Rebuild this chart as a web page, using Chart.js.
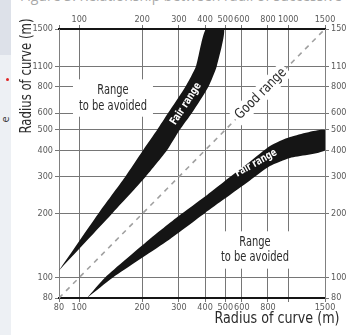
<!DOCTYPE html>
<html>
<head>
<meta charset="utf-8">
<script src="https://cdn.jsdelivr.net/npm/chart.js@4.4.1/dist/chart.umd.min.js"></script>
<style>
    html, body { margin: 0; padding: 0; background: #fff; }
    #page { position: relative; width: 347px; height: 335px; overflow: hidden; }
    .strip { position: absolute; left: 0; width: 11px; }
    .strip.top { top: 0; height: 55px; background: #dde1e9; }
    .strip.low { top: 55px; height: 280px; background: #edf0f4; }
    .dot { position: absolute; left: 6px; top: 78px; width: 3px; height: 3px; border-radius: 50%; background: #e02424; }
    .frag { position: absolute; left: 1px; top: 112px; font: 11px 'Open Sans', sans-serif; color: #333; transform: rotate(-90deg); }
    .cap { position: absolute; left: 20px; top: -14px; font: 14px 'Open Sans', sans-serif; color: #a8a8a8; white-space: nowrap; }
    canvas { position: absolute; left: 0; top: 0; }
</style>
</head>
<body>
<div id="page">
    <div class="strip top"></div>
    <div class="strip low"></div>
    <span class="dot"></span>
    <span class="frag">e</span>
    <div class="cap">Figure 3: Relationship between radii of successive curves</div>
    <canvas id="chart" width="347" height="335"></canvas>
</div>
<script>
    // axis ticks
    const xTickValues = [80, 100, 200, 300, 400, 500, 600, 800, 1000, 1500];
    const xBottomLabels = ['80', '100', '200', '300', '400', '500', '600', '800', '', '1500'];
    const xTopLabels = ['', '100', '200', '300', '400', '500', '600', '800', '1000', '1500'];
    const yTickValues = [80, 100, 200, 300, 400, 500, 600, 800, 1000, 1500];
    const yTickLabels = ['80', '100', '200', '300', '400', '500', '600', '800', '1100', '1500'];

    // upper "fair range" band, edges read at fixed radius levels (y)
    const upperBandY = [108, 200, 300, 400, 500, 600, 800, 1000, 1500];
    const upperBandLeftX = [80, 123, 166, 202, 236, 266, 322, 362, 404];
    const upperBandRightX = [80, 143, 208, 263, 303, 346, 415, 455, 493];

    // lower "fair range" band, edges read at fixed radius levels (x)
    const lowerBandX = [109, 133, 214, 300, 400, 494, 656, 818, 1020, 1500];
    const lowerBandTopY = [80, 100, 150, 196, 242, 285, 353, 419, 462, 499];
    const lowerBandBottomX = [109, 145, 267, 400, 494, 656, 818, 1020, 1500];
    const lowerBandBottomY = [80, 100, 150, 202, 235, 288, 337, 368, 400];

    // equal radii diagonal
    const diagonal = [80, 1500];

    const plotFont = "'Liberation Sans Narrow', 'DejaVu Sans Condensed', 'Roboto Condensed', Roboto, sans-serif";

    // text placed in data coordinates
    const notes = [
        { lines: ['Range', 'to be avoided'], x: 145, y: 707, angle: 0, size: 14, weight: 'normal', color: '#2b2b2b', width: 68, box: [6, 3] },
        { lines: ['Range', 'to be avoided'], x: 693, y: 135, angle: 0, size: 14, weight: 'normal', color: '#2b2b2b', width: 68, box: [6, 3] },
        { lines: ['Good range'], x: 740, y: 740, angle: -45, size: 14, weight: 'normal', color: '#2b2b2b', width: 66, box: [3, 1] },
        { lines: ['Fair range'], x: 324, y: 663, angle: -57, size: 11, weight: 'bold', color: '#fff', width: 48 },
        { lines: ['Fair range'], x: 701, y: 348, angle: -29, size: 11, weight: 'bold', color: '#fff', width: 46 }
    ];

    function bandShape(xs1, ys1, xs2, ys2) {
        const pts = xs1.map((x, i) => ({ x: x, y: ys1[i] }));
        for (let i = xs2.length - 1; i >= 0; i--) {
            pts.push({ x: xs2[i], y: ys2[i] });
        }
        return pts;
    }

    function drawScaledText(ctx, lines, lh, width) {
        const natural = Math.max(...lines.map(l => ctx.measureText(l).width));
        const sx = Math.min(1, width / natural);
        ctx.scale(sx, 1);
        lines.forEach((l, i) => {
            ctx.fillText(l, 0, (i - (lines.length - 1) / 2) * lh);
        });
    }

    const textLayer = {
        id: 'textLayer',
        afterDatasetsDraw(chart) {
            const { ctx, scales: { x, y } } = chart;
            notes.forEach(n => {
                const px = x.getPixelForValue(n.x);
                const py = y.getPixelForValue(n.y);
                const lh = n.size * 1.12;
                ctx.save();
                ctx.translate(px, py);
                ctx.rotate(n.angle * Math.PI / 180);
                ctx.font = `${n.weight} ${n.size}px ${plotFont}`;
                ctx.textAlign = 'center';
                ctx.textBaseline = 'middle';
                if (n.box) {
                    const w = n.width + n.box[0] * 2;
                    const h = lh * n.lines.length + n.box[1] * 2;
                    ctx.fillStyle = '#fff';
                    ctx.fillRect(-w / 2, -h / 2, w, h);
                }
                ctx.fillStyle = n.color;
                drawScaledText(ctx, n.lines, lh, n.width);
                ctx.restore();
            });
        },
        afterDraw(chart) {
            const ctx = chart.ctx;
            ctx.save();
            ctx.fillStyle = '#2a2a2a';
            ctx.font = `16px ${plotFont}`;
            ctx.textAlign = 'center';
            ctx.textBaseline = 'middle';
            ctx.translate(277, 319);
            drawScaledText(ctx, ['Radius of curve (m)'], 16, 125);
            ctx.restore();

            ctx.save();
            ctx.fillStyle = '#2a2a2a';
            ctx.font = `16px ${plotFont}`;
            ctx.textAlign = 'center';
            ctx.textBaseline = 'middle';
            ctx.translate(27, 76);
            ctx.rotate(-Math.PI / 2);
            drawScaledText(ctx, ['Radius of curve (m)'], 16, 115);
            ctx.restore();
        }
    };

    function logAxis(position, values, labels, size, onChart) {
        const horizontal = position === 'top' || position === 'bottom';
        return {
            type: 'logarithmic',
            position: position,
            min: 80,
            max: 1500,
            afterBuildTicks: s => { s.ticks = values.map(v => ({ value: v })); },
            afterFit: s => {
                if (horizontal) { s.height = size; } else { s.width = size; }
            },
            ticks: {
                autoSkip: false,
                maxRotation: 0,
                padding: horizontal ? 0 : 2,
                color: '#5a5a5a',
                font: { family: plotFont, size: 9 },
                callback: (v, i) => labels[i]
            },
            grid: {
                drawOnChartArea: onChart,
                color: '#767676',
                lineWidth: 1,
                tickLength: 4,
                tickColor: '#767676'
            },
            border: horizontal ? { color: '#151515', width: 2 } : { color: '#808080', width: 1 }
        };
    }

    const ctx = document.getElementById('chart').getContext('2d');
    new Chart(ctx, {
        type: 'line',
        data: {
            datasets: [
                {
                    label: 'Fair range (upper)',
                    data: bandShape(upperBandLeftX, upperBandY, upperBandRightX, upperBandY),
                    backgroundColor: '#151515',
                    borderWidth: 0,
                    pointRadius: 0,
                    tension: 0.2,
                    fill: 'shape'
                },
                {
                    label: 'Fair range (lower)',
                    data: bandShape(lowerBandX, lowerBandTopY, lowerBandBottomX, lowerBandBottomY),
                    backgroundColor: '#151515',
                    borderWidth: 0,
                    pointRadius: 0,
                    tension: 0.2,
                    fill: 'shape'
                },
                {
                    label: 'Equal radii',
                    data: diagonal.map(v => ({ x: v, y: v })),
                    borderColor: '#a0a0a0',
                    borderWidth: 1.6,
                    borderDash: [5, 5],
                    pointRadius: 0,
                    fill: false
                }
            ]
        },
        options: {
            responsive: false,
            animation: false,
            devicePixelRatio: 1,
            layout: { padding: 0 },
            plugins: {
                legend: { display: false },
                tooltip: { enabled: false }
            },
            scales: {
                x: logAxis('bottom', xTickValues, xBottomLabels, 37, true),
                x2: logAxis('top', xTickValues, xTopLabels, 29, false),
                y: logAxis('left', yTickValues, yTickLabels, 59, true),
                y2: logAxis('right', yTickValues, yTickLabels, 22, false)
            }
        },
        plugins: [textLayer]
    });
</script>
</body>
</html>
